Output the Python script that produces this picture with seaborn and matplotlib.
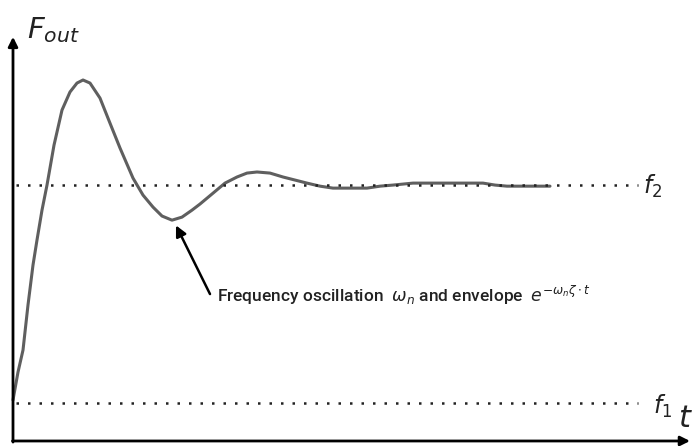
import numpy as np
import pandas as pd
import seaborn as sns
import matplotlib.pyplot as plt

# step response (f1 = 0, f2 = 1)
t_vals = [0.00, 0.05, 0.10, 0.15, 0.20, 0.24, 0.29, 0.34, 0.41, 0.49, 0.57, 0.64, 0.70,
          0.77, 0.87, 0.97, 1.07, 1.20, 1.30, 1.40, 1.49, 1.59, 1.69, 1.79, 1.87, 1.99,
          2.12, 2.24, 2.34, 2.44, 2.57, 2.70, 2.82, 2.94, 3.07, 3.20, 3.37, 3.54, 3.67,
          3.80, 4.00, 4.37, 4.70, 4.82, 4.94, 5.17, 5.37]
f_out = [0.014, 0.142, 0.243, 0.450, 0.633, 0.748, 0.885, 1.000, 1.183, 1.344, 1.427,
         1.468, 1.482, 1.468, 1.399, 1.284, 1.170, 1.032, 0.954, 0.899, 0.858, 0.839,
         0.853, 0.885, 0.913, 0.959, 1.009, 1.037, 1.055, 1.060, 1.055, 1.037, 1.023,
         1.009, 0.995, 0.986, 0.986, 0.986, 0.995, 1.000, 1.009, 1.009, 1.009, 1.000,
         0.995, 0.995, 0.995]

f1_level = 0.0
f2_level = 1.0
ref_t = [0.03, 6.25]

df = pd.DataFrame({'t': t_vals, 'F': f_out})

sns.set_theme(style='white')
plt.rcParams['mathtext.fontset'] = 'dejavusans'

fig = plt.figure(figsize=(6.96, 4.46), dpi=100)
ax = fig.add_axes([0, 0, 1, 1])

sns.lineplot(data=df, x='t', y='F', ax=ax, color='#5f5f5f', linewidth=2.2)
ax.plot(ref_t, [f2_level, f2_level], color='#222222', linewidth=1.8,
        linestyle=(0, (1, 3.6)))
ax.plot(ref_t, [f1_level, f1_level], color='#222222', linewidth=1.8,
        linestyle=(0, (1, 3.6)))

ax.set_xlim(-0.13, 6.83)
ax.set_ylim(-0.197, 1.849)
ax.set_axis_off()

# axes with arrows
y0 = -0.174
ax.annotate('', xy=(6.77, y0), xytext=(-0.005, y0),
            arrowprops=dict(arrowstyle='-|>', color='black', lw=2,
                            mutation_scale=14, shrinkA=0, shrinkB=0))
ax.annotate('', xy=(0, 1.68), xytext=(0, y0 - 0.005),
            arrowprops=dict(arrowstyle='-|>', color='black', lw=2,
                            mutation_scale=14, shrinkA=0, shrinkB=0))

ax.text(0.14, 1.672, r'$\mathit{F}_{\mathit{out}}$', fontsize=21, color='#222222',
        ha='left', va='baseline')
ax.text(6.65, -0.11, r'$\mathit{t}$', fontsize=22, color='#222222',
        ha='left', va='baseline')
ax.text(6.30, f2_level - 0.04, r'$\mathit{f}_2$', fontsize=17, color='#222222',
        ha='left', va='baseline')
ax.text(6.40, f1_level - 0.05, r'$\mathit{f}_1$', fontsize=17, color='#222222',
        ha='left', va='baseline')

# pointer to the first trough
ax.annotate('', xy=(1.63, 0.815), xytext=(1.97, 0.50),
            arrowprops=dict(arrowstyle='-|>', color='black', lw=1.8,
                            mutation_scale=16, shrinkA=0, shrinkB=0))
ax.text(2.04, 0.465,
        r'Frequency oscillation  $\mathit{\omega_n}$ and envelope  $e^{-\omega_n\zeta\cdot t}$',
        fontsize=12.5, color='#222222', ha='left', va='baseline', fontweight='medium',
        family=['Roboto', 'DejaVu Sans'])

fig.savefig('out.png', dpi=100, facecolor='white')
